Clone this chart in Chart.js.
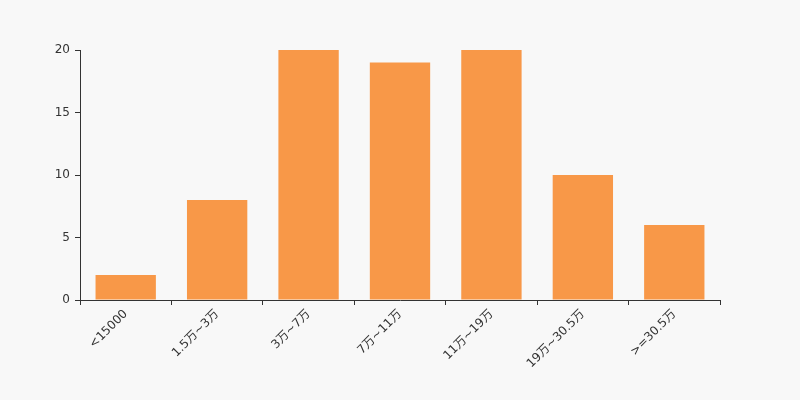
<!DOCTYPE html>
<html>
<head>
<meta charset="utf-8">
<script src="https://cdn.jsdelivr.net/npm/chart.js@4"></script>
<style>
  html, body { margin: 0; padding: 0; background: #f8f8f8; }
  #wrap { width: 800px; height: 400px; }
</style>
</head>
<body>
<div id="wrap"><canvas id="c" width="800" height="400"></canvas></div>
<script>
// Distribution by bracket
const labels = ["<15000", "1.5万~3万", "3万~7万", "7万~11万", "11万~19万", "19万~30.5万", ">=30.5万"];
const counts = [2, 8, 20, 19, 20, 10, 6];
const yTicks = [0, 5, 10, 15, 20];

const FONT = { family: "'DejaVu Sans', 'Noto Sans CJK SC', sans-serif", size: 12 };
const AXIS = "#333333";

new Chart(document.getElementById("c"), {
  type: "bar",
  data: {
    labels,
    datasets: [{
      data: counts,
      backgroundColor: "#f89848",
      categoryPercentage: 1,
      barPercentage: 0.66,
    }],
  },
  options: {
    responsive: false,
    animation: false,
    layout: { padding: { left: 0, right: 80, top: 50, bottom: 0 } },
    plugins: { legend: { display: false }, tooltip: { enabled: false } },
    scales: {
      x: {
        afterFit: (s) => { s.height = 100; },
        border: { color: AXIS, width: 1 },
        grid: { drawOnChartArea: false, color: AXIS, tickLength: 5, offset: true },
        ticks: { font: FONT, color: AXIS, minRotation: 45, maxRotation: 45, padding: 2 },
      },
      y: {
        min: 0, max: 20,
        afterFit: (s) => { s.width = 80; },
        afterBuildTicks: (s) => { s.ticks = yTicks.map((v) => ({ value: v })); },
        border: { color: AXIS, width: 1 },
        grid: { drawOnChartArea: false, color: AXIS, tickLength: 5 },
        ticks: { font: FONT, color: AXIS, padding: 5 },
      },
    },
  },
});
</script>
</body>
</html>
